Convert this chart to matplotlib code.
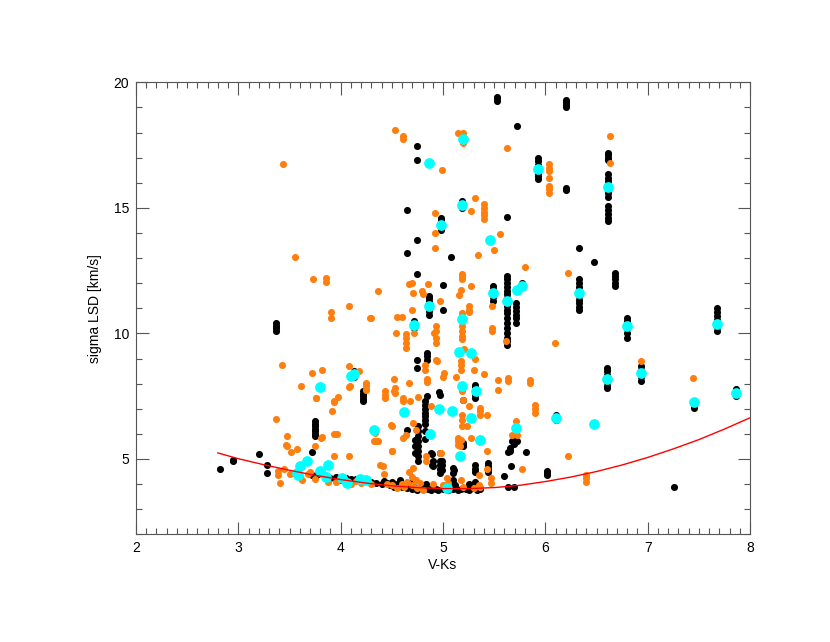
import numpy as np
import matplotlib
matplotlib.use("Agg")
import matplotlib.pyplot as plt
from matplotlib.ticker import MultipleLocator

plt.rcParams['font.family'] = ['Liberation Sans', 'DejaVu Sans']

# --- black points (V-Ks, sigma) ---
black_x = [2.82, 2.95, 2.95, 3.2, 3.28, 3.28,
           3.37, 3.37, 3.37, 3.37, 3.72,
           3.75, 3.75, 3.75, 3.75, 3.75, 3.75, 3.75,
           3.72, 3.75, 3.78, 3.9, 3.95, 4.0,
           4.13, 4.13, 4.13, 4.22, 4.22, 4.22, 4.22, 4.22,
           4.65, 4.65, 4.75, 4.75, 4.75, 4.75,
           4.86, 4.86, 4.86, 4.86, 4.86, 4.86, 4.86, 4.86,
           5.0, 5.0, 4.98, 4.98, 4.98, 4.98, 4.98, 4.98, 5.08,
           5.19, 5.19, 5.19, 5.19, 4.72, 4.72, 4.72, 4.72,
           4.84, 4.84, 4.84, 4.75, 4.75, 4.84, 4.96, 4.97,
           5.31, 5.31, 5.31, 5.31, 5.31, 5.2,
           4.82, 4.82, 4.82, 4.82, 4.82, 4.82, 4.82, 4.82, 4.82,
           4.76, 4.76, 4.76, 4.76, 4.76, 4.76, 4.76, 4.76,
           4.65, 4.73, 4.73, 4.73, 4.89, 4.89, 4.88, 4.97, 4.9, 4.9,
           4.97, 4.97, 4.97, 4.97, 4.99, 4.99, 4.99,
           5.1, 5.1, 5.11, 5.1, 5.2, 5.2, 5.2,
           5.31, 5.31, 5.31, 5.31, 5.31, 5.44, 5.44, 5.44, 5.44,
           5.64, 5.66, 5.6, 5.64, 5.69, 5.67, 5.72, 5.65, 5.65, 5.81, 5.69, 5.69,
           6.02, 6.02, 6.02, 7.26,
           4.3, 4.35, 4.4, 4.45, 4.48, 4.52, 4.55, 4.6, 4.62, 4.65, 4.7, 4.72,
           4.75, 4.78, 4.8, 4.85, 4.88, 4.9, 4.93, 4.95, 5.0, 5.02, 5.05, 5.1,
           5.12, 5.15, 5.18, 5.22, 5.25, 5.28, 5.33, 5.36, 4.5, 4.58, 4.42, 4.68,
           4.83, 5.08, 5.25, 4.25, 4.15, 4.1, 4.05, 3.95,
           5.53, 5.53, 5.53, 6.2, 6.2, 6.2, 6.2, 5.72,
           6.61, 6.61, 6.61, 6.61, 6.61, 6.61, 6.61, 6.61, 6.61, 6.61, 6.61,
           6.61, 6.61, 6.61, 6.61, 6.61,
           5.93, 5.93, 5.93, 5.93, 5.93, 5.93, 5.93,
           6.2, 6.2, 5.63, 6.33, 6.48,
           6.68, 6.68, 6.68, 6.68, 6.68,
           6.33, 6.33, 6.33, 6.33, 6.33, 6.33, 6.33, 6.33, 6.33,
           5.49, 5.49, 5.49, 5.49, 5.49,
           5.63, 5.63, 5.63, 5.63, 5.63, 5.63, 5.63, 5.63, 5.63, 5.63, 5.63,
           5.63, 5.63, 5.63, 5.63, 5.63, 5.63, 5.63,
           5.71, 5.71, 5.71, 5.71, 5.71, 5.71, 5.77,
           6.8, 6.8, 6.8, 6.8, 6.8, 6.8,
           7.68, 7.68, 7.68, 7.68, 7.68, 7.68, 7.68,
           6.93, 6.93, 6.93, 6.93, 6.93,
           6.6, 6.6, 6.6, 6.6, 6.6, 6.6, 6.6,
           7.86, 7.86, 7.86, 7.45, 7.45, 6.1, 6.1, 6.1]
black_y = [4.6, 4.97, 4.92, 5.2, 4.74, 4.46,
           10.4, 10.3, 10.2, 10.1, 5.26,
           6.5, 6.4, 6.3, 6.2, 6.1, 6.0, 5.9,
           4.37, 4.3, 4.4, 4.24, 4.2, 4.15,
           8.5, 8.4, 8.25, 7.7, 7.6, 7.5, 7.4, 7.3,
           14.92, 13.19, 17.45, 16.9, 13.72, 12.35,
           11.5, 11.4, 11.3, 11.2, 11.1, 11.0, 10.9, 10.75,
           11.94, 10.95, 14.6, 14.5, 14.4, 14.3, 14.2, 14.1, 13.04,
           15.28, 15.2, 15.1, 15.0, 10.5, 10.4, 10.3, 10.2,
           9.23, 9.1, 8.96, 8.93, 8.61, 7.49, 7.65, 7.56,
           7.96, 7.85, 7.7, 7.55, 7.43, 7.33,
           7.29, 7.15, 7.0, 6.85, 6.7, 6.55, 6.4, 6.1, 5.8,
           6.3, 6.1, 5.9, 5.7, 5.5, 5.3, 5.1, 4.9,
           6.16, 5.76, 5.5, 5.23, 5.2, 4.77, 5.23, 5.23, 4.9, 4.7,
           4.9, 4.75, 4.6, 4.43, 4.9, 4.75, 4.57,
           4.63, 4.43, 4.57, 4.17, 5.63, 5.5, 5.57,
           4.77, 4.6, 4.5, 4.1, 3.84, 4.83, 4.7, 4.6, 4.5,
           5.26, 4.73, 4.34, 3.88, 3.88, 5.7, 5.7, 5.43, 5.3, 5.27, 5.76, 5.6,
           4.54, 4.45, 4.37, 3.88,
           4.1, 4.05, 4.0, 4.05, 3.95, 3.9, 4.0, 3.88, 3.95, 3.85, 3.82, 3.9,
           3.78, 3.85, 3.95, 3.8, 3.78, 3.9, 3.8, 3.75, 3.82, 3.9, 3.78, 3.8,
           3.95, 3.78, 3.82, 3.8, 3.78, 3.85, 3.75, 3.8, 4.1, 4.15, 4.12, 4.05,
           4.0, 4.0, 4.0, 4.15, 4.2, 4.22, 4.25, 4.3,
           19.4, 19.32, 19.25, 19.3, 19.2, 19.1, 19.0, 18.25,
           17.2, 17.1, 17.0, 16.9, 16.35, 16.2, 16.05, 15.9, 15.75, 15.6, 15.45,
           15.08, 14.9, 14.75, 14.6, 14.48,
           17.0, 16.85, 16.7, 16.55, 16.4, 16.25, 16.14,
           15.8, 15.7, 14.65, 13.39, 12.86,
           12.42, 12.3, 12.15, 12.0, 11.88,
           12.15, 12.0, 11.85, 11.7, 11.5, 11.35, 11.2, 11.05, 10.95,
           11.88, 11.75, 11.6, 11.45, 11.29,
           12.28, 12.15, 12.0, 11.85, 11.7, 11.55, 11.4, 11.25, 11.1, 10.95, 10.8,
           10.6, 10.4, 10.2, 10.02, 9.8, 9.7, 9.55,
           11.22, 11.05, 10.9, 10.75, 10.6, 10.42, 12.02,
           10.62, 10.5, 10.35, 10.2, 10.0, 9.82,
           11.02, 10.85, 10.7, 10.55, 10.4, 10.25, 10.09,
           8.69, 8.55, 8.4, 8.25, 8.09,
           8.63, 8.5, 8.35, 8.2, 8.05, 7.9, 7.83,
           7.8, 7.65, 7.5, 7.03, 7.15, 6.75, 6.65, 6.55]

# --- orange points ---
orange_x = [3.44, 3.55, 3.73, 3.86, 3.86, 4.36, 4.08, 3.91, 3.91, 4.29,
            3.43, 3.72, 3.82, 4.08, 4.18, 4.25, 4.25, 3.61, 4.08, 3.76, 3.93, 3.97,
            3.92, 3.37, 3.48, 3.93, 3.96, 3.82, 4.33, 4.36, 3.48, 3.57, 3.51, 3.75,
            3.93, 4.08, 3.39, 3.39, 3.41, 3.47, 3.81, 3.76, 3.93, 4.09, 4.25, 4.25,
            4.25, 4.49, 4.5, 4.38, 4.42, 4.35,
            3.6, 3.68, 3.75, 3.55, 3.62, 3.85, 3.95, 4.03, 4.1, 4.2, 4.3, 3.45,
            3.5, 3.7, 3.88, 4.15,
            4.53, 4.61, 4.61, 5.15, 5.2, 5.2, 5.63, 4.99, 6.63, 6.63,
            6.04, 6.04, 6.04, 6.04, 6.04, 6.04, 6.04,
            5.31, 5.27, 5.4, 5.4, 5.4, 5.4, 5.4,
            4.92, 4.92, 4.92, 5.56, 5.5, 5.34, 5.8, 6.22,
            4.67, 4.7, 4.85, 4.71, 4.79, 4.8, 4.97,
            5.19, 5.19, 5.19, 5.18, 5.16, 5.27, 5.25, 5.25, 5.25, 5.48, 5.48, 5.48,
            5.62, 6.09, 5.19,
            4.72, 4.64, 4.64, 4.64, 4.64, 4.93, 4.93, 4.91, 4.93, 4.93, 4.54, 4.7,
            4.3, 4.55, 4.6,
            5.19, 5.19, 5.19, 5.19, 5.21,
            4.82, 4.82, 4.94, 5.18, 5.18, 5.18, 5.3, 5.4, 5.01, 5.0, 5.13, 5.31, 4.93,
            6.93, 7.44, 5.54, 5.54, 5.64, 5.64, 5.85, 5.85, 4.84, 4.84, 4.67, 4.52,
            4.43, 4.53, 4.53, 5.19,
            4.43, 4.43, 4.52, 4.61, 4.61, 4.68, 4.88, 4.76,
            5.9, 5.9, 5.9, 5.36, 5.36, 5.36, 5.43,
            5.71, 5.67, 5.72, 6.22, 5.77, 6.4, 6.4, 6.4,
            5.43, 5.43, 5.47, 5.47, 5.35, 4.98, 5.17, 5.18, 5.36,
            5.19, 5.19, 5.19, 5.23, 5.27, 5.15, 5.15, 5.15, 5.17,
            4.71, 4.74, 4.5, 4.61, 4.64, 4.34, 4.34, 4.5, 4.41, 4.71, 4.67, 4.7,
            4.74, 5.04, 5.18, 4.83, 4.83, 4.97, 5.2, 5.25,
            4.55, 4.6, 4.62, 4.7, 4.75, 4.78, 4.8, 4.9, 5.0, 5.05, 5.2, 5.3, 5.35,
            4.65, 4.5, 4.45]
orange_y = [16.75, 13.03, 12.15, 12.22, 12.06, 11.68, 11.1, 10.85, 10.6, 10.62,
            8.73, 8.41, 8.56, 8.69, 8.49, 8.0, 7.8, 7.92, 7.85, 7.41, 7.28, 7.45,
            6.9, 6.6, 5.91, 5.99, 5.99, 5.86, 5.7, 5.7, 5.52, 5.39, 5.26, 5.52,
            5.13, 5.13, 4.54, 4.37, 4.04, 5.54, 5.83, 7.43, 7.29, 7.89, 8.03, 7.9,
            7.76, 6.36, 5.3, 4.77, 4.41, 5.7,
            4.3, 4.4, 4.2, 4.45, 4.15, 4.35, 4.1, 4.2, 4.0, 4.05, 4.0, 4.6,
            4.4, 4.5, 4.1, 4.12,
            18.1, 17.85, 17.75, 18.0, 17.97, 17.58, 17.4, 16.5, 17.87, 16.78,
            16.74, 16.6, 16.47, 16.2, 15.88, 15.75, 15.6,
            15.4, 14.87, 15.15, 15.0, 14.85, 14.7, 14.55,
            14.79, 13.98, 13.42, 13.95, 13.32, 13.11, 12.64, 12.42,
            11.95, 12.02, 11.95, 11.62, 11.68, 11.55, 11.29,
            12.38, 12.25, 12.15, 11.72, 11.51, 11.88, 11.1, 10.95, 10.84, 11.1, 10.22, 10.09,
            9.69, 9.6, 10.82,
            10.02, 9.96, 9.8, 9.6, 9.43, 10.29, 10.1, 10.02, 9.82, 9.62, 10.02, 10.93,
            10.62, 10.66, 10.66,
            10.29, 10.1, 9.89, 9.76, 9.36,
            8.76, 8.56, 8.89, 8.89, 8.75, 8.56, 8.53, 8.4, 8.43, 8.27, 8.25, 8.99, 8.96,
            8.89, 8.21, 8.16, 7.76, 8.23, 8.09, 8.16, 8.03, 8.19, 8.05, 8.03, 8.19,
            7.72, 7.83, 7.63, 7.69,
            7.55, 7.43, 7.69, 7.43, 7.3, 7.29, 7.09, 7.45,
            7.16, 7.0, 6.83, 7.03, 6.9, 6.76, 6.76,
            6.5, 5.96, 5.96, 5.13, 4.6, 4.37, 4.25, 4.1,
            5.3, 4.6, 4.24, 4.04, 4.37, 5.23, 5.5, 5.76, 3.9,
            6.76, 6.55, 6.3, 6.3, 5.83, 5.83, 5.7, 5.57, 5.17,
            6.43, 6.16, 6.32, 5.83, 5.96, 6.03, 5.7, 5.33, 4.73, 4.63, 4.5, 4.3,
            4.17, 4.24, 4.17, 5.1, 4.9, 5.23, 7.36, 7.09,
            3.85, 4.0, 3.9, 3.95, 3.85, 4.05, 3.78, 4.0, 3.95, 4.05, 3.9, 3.85, 3.95,
            4.1, 3.95, 4.0]

# --- cyan points ---
cyan_x = [5.2, 4.86, 5.93, 6.61, 5.19, 4.98, 5.46, 6.33, 4.86, 5.49, 5.63, 5.72,
          5.77, 5.19, 4.72, 6.8, 7.68, 5.16, 5.27, 6.93, 6.6, 4.1, 4.13, 3.8,
          7.86, 7.45, 5.19, 5.32, 4.96, 5.09, 5.27, 4.62, 6.1, 6.48, 5.71, 4.33,
          4.87, 5.36, 5.17, 5.04,
          3.57, 3.58, 3.6, 3.67, 3.8, 3.86, 3.88, 4.01, 4.06, 4.19, 4.25]
cyan_y = [17.75, 16.77, 16.54, 15.84, 15.12, 14.3, 13.72, 11.62, 11.11, 11.62, 11.29, 11.72,
          11.88, 10.58, 10.32, 10.29, 10.39, 9.25, 9.2, 8.43, 8.19, 8.32, 8.38, 7.88,
          7.63, 7.27, 7.92, 7.72, 7.0, 6.93, 6.63, 6.89, 6.63, 6.41, 6.23, 6.14,
          6.0, 5.74, 5.13, 3.86,
          4.45, 4.35, 4.7, 4.9, 4.54, 4.3, 4.77, 4.24, 4.04, 4.2, 4.17]

# --- red fit curve ---
fit_x = [2.8, 3.0, 3.25, 3.5, 3.75, 4.0, 4.25, 4.5, 4.75, 5.0, 5.25, 5.5, 5.75,
         6.0, 6.25, 6.5, 6.75, 7.0, 7.25, 7.5, 7.75, 8.0]
fit_y = [5.24, 5.01, 4.77, 4.55, 4.35, 4.18, 4.04, 3.93, 3.86, 3.82, 3.82, 3.86, 3.95,
         4.1, 4.28, 4.5, 4.76, 5.06, 5.4, 5.77, 6.19, 6.64]

fig = plt.figure(figsize=(8.3, 6.42), dpi=100)
ax = fig.add_axes([136 / 830, 1 - 534.3 / 642, 614 / 830, 452 / 642])

ax.scatter(black_x, black_y, s=26, color='black', linewidths=0, zorder=2)
ax.scatter(orange_x, orange_y, s=26, color='#ff7f0e', linewidths=0, zorder=3)
ax.scatter(cyan_x, cyan_y, s=60, color='#00ffff', linewidths=0, zorder=4)
ax.plot(fit_x, fit_y, color='red', lw=1.0, zorder=5)

ax.set_xlim(2, 8)
ax.set_ylim(2, 20)
ax.xaxis.set_major_locator(MultipleLocator(1))
ax.xaxis.set_minor_locator(MultipleLocator(0.1))
ax.yaxis.set_major_locator(MultipleLocator(5))
ax.yaxis.set_minor_locator(MultipleLocator(1))

ax.tick_params(which='both', direction='in', top=True, right=True,
               color='#555555', width=0.8, labelsize=10, pad=5)
ax.tick_params(which='major', length=9)
ax.tick_params(which='minor', length=4.5)
for sp in ax.spines.values():
    sp.set_color('#555555')
    sp.set_linewidth(0.8)

ax.set_xlabel('V-Ks', fontsize=10, labelpad=2)
ax.set_ylabel('sigma LSD [km/s]', fontsize=10, labelpad=8)

fig.savefig('out.png', dpi=100)
